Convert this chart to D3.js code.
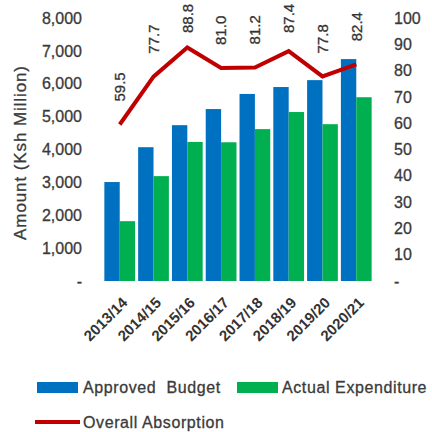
<!DOCTYPE html>
<html>
<head>
<meta charset="utf-8">
<script src="https://cdn.jsdelivr.net/npm/d3@7"></script>
<style>
  html, body { margin: 0; padding: 0; background: #fff; }
  svg { display: block; }
  text { font-family: "Liberation Sans", Arial, sans-serif; }
</style>
</head>
<body>
<div id="chart"></div>
<script>
// Fiscal years
const years = ["2013/14", "2014/15", "2015/16", "2016/17", "2017/18", "2018/19", "2019/20", "2020/21"];
// Amounts in Ksh Million
const approvedBudget = [3010, 4070, 4740, 5230, 5690, 5900, 6110, 6750];
const actualExpenditure = [1820, 3190, 4230, 4220, 4620, 5140, 4770, 5590];
// Overall absorption rate (%)
const absorption = [59.5, 77.7, 88.8, 81.0, 81.2, 87.4, 77.8, 82.4];
// Axis ticks
const leftTicks = [0, 1000, 2000, 3000, 4000, 5000, 6000, 7000, 8000];
const rightTicks = [0, 10, 20, 30, 40, 50, 60, 70, 80, 90, 100];
const seriesNames = ["Approved  Budget", "Actual Expenditure"];

const W = 432, H = 432;
const colors = { budget: "#0070C0", actual: "#00B050", line: "#C00000", text: "#404040" };

const svg = d3.select("#chart").append("svg")
  .attr("width", W).attr("height", H);

const plotTop = 18, plotBottom = 281, plotLeft = 103, plotRight = 373;

const x = d3.scaleBand().domain(years).range([plotLeft, plotRight])
  .paddingInner(0.09).paddingOuter(0.04);
const xs = d3.scaleBand().domain(["budget", "actual"]).range([0, x.bandwidth()]);
const yL = d3.scaleLinear().domain([0, 8000]).range([plotBottom, plotTop]);
const yR = d3.scaleLinear().domain([0, 100]).range([plotBottom, plotTop]);

const fmtL = d => d === 0 ? "-" : d3.format(",")(d);
const fmtR = d => d === 0 ? "-" : d3.format("d")(d);

// Left axis
const axL = svg.append("g").attr("transform", `translate(${plotLeft - 21},0)`)
  .call(d3.axisLeft(yL).tickValues(leftTicks).tickFormat(fmtL).tickSize(0).tickPadding(0));
axL.select(".domain").remove();
axL.selectAll("text").attr("font-size", 16).attr("fill", "#3a3a3a")
  .attr("stroke", "#3a3a3a").attr("stroke-width", 0.3)
  .attr("font-family", "Liberation Sans, Arial, sans-serif");

// Right axis
const axR = svg.append("g").attr("transform", `translate(${plotRight + 21},0)`)
  .call(d3.axisRight(yR).tickValues(rightTicks).tickFormat(fmtR).tickSize(0).tickPadding(0));
axR.select(".domain").remove();
axR.selectAll("text").attr("font-size", 16).attr("fill", "#3a3a3a")
  .attr("stroke", "#3a3a3a").attr("stroke-width", 0.3)
  .attr("font-family", "Liberation Sans, Arial, sans-serif");

// Y axis title
svg.append("text")
  .attr("transform", `translate(20,${(plotTop + plotBottom) / 2 + 3}) rotate(-90)`)
  .attr("text-anchor", "middle")
  .attr("dy", "0.35em")
  .attr("font-size", 17)
  .attr("letter-spacing", 0.9)
  .attr("fill", "#3a3a3a")
  .attr("stroke", "#3a3a3a").attr("stroke-width", 0.3)
  .text("Amount (Ksh Million)");

// Bars
const groups = svg.append("g").selectAll("g").data(years).join("g")
  .attr("transform", d => `translate(${x(d)},0)`);
groups.append("rect")
  .attr("x", xs("budget")).attr("width", xs.bandwidth())
  .attr("y", (d, i) => yL(approvedBudget[i]))
  .attr("height", (d, i) => yL(0) - yL(approvedBudget[i]))
  .attr("fill", colors.budget);
groups.append("rect")
  .attr("x", xs("actual")).attr("width", xs.bandwidth())
  .attr("y", (d, i) => yL(actualExpenditure[i]))
  .attr("height", (d, i) => yL(0) - yL(actualExpenditure[i]))
  .attr("fill", colors.actual);

// X axis labels, rotated
const axX = svg.append("g").attr("transform", `translate(0,${plotBottom})`)
  .call(d3.axisBottom(x).tickSize(0).tickPadding(0));
axX.select(".domain").remove();
axX.selectAll("text")
  .attr("font-size", 15).attr("font-weight", "bold").attr("fill", "#333")
  .attr("font-family", "Liberation Sans, Arial, sans-serif")
  .attr("text-anchor", "end")
  .attr("transform", "translate(5,19) rotate(-45)")
  .attr("dy", "0.35em");

// Absorption line
const cx = d => x(d) + x.bandwidth() / 2;
const line = d3.line().x((d, i) => cx(years[i])).y(d => yR(d));
svg.append("path").datum(absorption)
  .attr("d", line)
  .attr("fill", "none")
  .attr("stroke", colors.line)
  .attr("stroke-width", 4)
  .attr("stroke-linejoin", "miter");

// Value labels above the line
const labelLen = 31;
svg.append("g").selectAll("text").data(absorption).join("text")
  .attr("transform", (d, i) => {
    let py = yR(d) - 23;
    if (py - labelLen < 2) py = 2 + labelLen;
    return `translate(${cx(years[i])},${py}) rotate(-90)`;
  })
  .attr("text-anchor", "start")
  .attr("dy", "0.35em")
  .attr("font-size", 15)
  .attr("fill", "#333")
  .attr("stroke", "#333").attr("stroke-width", 0.3)
  .text(d => d3.format(".1f")(d));

// Legend
const leg = svg.append("g");
leg.append("rect").attr("x", 37).attr("y", 382).attr("width", 41).attr("height", 11).attr("fill", colors.budget);
leg.append("text").attr("x", 83).attr("y", 393).attr("font-size", 16).attr("letter-spacing", 0.6)
  .attr("fill", "#3a3a3a").attr("stroke", "#3a3a3a").attr("stroke-width", 0.3)
  .attr("xml:space", "preserve").text(seriesNames[0]);
leg.append("rect").attr("x", 237).attr("y", 382).attr("width", 41).attr("height", 11).attr("fill", colors.actual);
leg.append("text").attr("x", 282).attr("y", 393).attr("font-size", 16).attr("letter-spacing", 0.6)
  .attr("fill", "#3a3a3a").attr("stroke", "#3a3a3a").attr("stroke-width", 0.3)
  .text(seriesNames[1]);
leg.append("line").attr("x1", 35).attr("x2", 80).attr("y1", 422).attr("y2", 422)
  .attr("stroke", colors.line).attr("stroke-width", 4);
leg.append("text").attr("x", 83).attr("y", 428).attr("font-size", 16).attr("letter-spacing", 0.6)
  .attr("fill", "#3a3a3a").attr("stroke", "#3a3a3a").attr("stroke-width", 0.3)
  .text("Overall Absorption");
</script>
</body>
</html>
